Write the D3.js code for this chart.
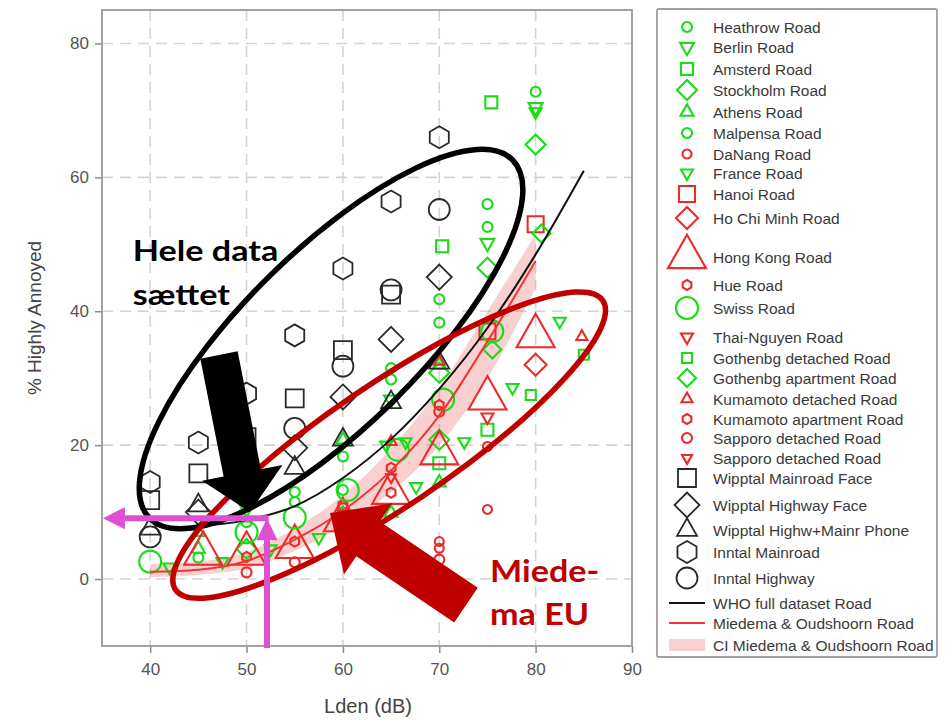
<!DOCTYPE html>
<html>
<head>
<meta charset="utf-8">
<script src="https://cdn.jsdelivr.net/npm/d3@7"></script>
<style>
  body { margin: 0; background: #fff; }
  svg { display: block; }
</style>
</head>
<body>
<svg id="chart" width="951" height="720"></svg>
<script>
// ---- Study results: [Lden (dB), % highly annoyed] ----
const heathrowRoad   = [[80, 72.8], [75, 56], [70, 41.8], [65, 31.5], [60, 18.3], [55, 13]];
const berlinRoad     = [[80, 70.5], [75, 50.2], [65, 26.8], [50, 10.5]];
const amsterdRoad    = [[75.4, 71.2], [70.3, 49.7], [75, 22.3], [70, 17.3]];
const stockholmRoad  = [[80, 64.9], [75, 46.5], [70, 30.8], [70, 20.8], [50, 4.5]];
const athensRoad     = [[70, 32], [70, 14.4], [65, 9.9], [60, 20.8], [45, 7], [45, 4.5]];
const malpensaRoad   = [[75, 52.6], [70, 38.3], [65, 29.8], [60, 13.3], [55, 11.5], [50, 8.5], [45, 3.2]];
const danangRoad     = [[75, 19.8], [75, 10.4], [70, 5.6], [70, 4.6]];
const franceRoad     = [[82.5, 38.5], [80, 69.8], [77.6, 28.6], [72.6, 20.5], [67.6, 13.8], [66.5, 20.5],
                        [64.5, 20], [57.5, 6.2], [52.5, 4.5], [47.5, 2.6], [42, 1.8]];
const hanoiRoad      = [[80, 53], [75, 37]];
const hoChiMinhRoad  = [[80, 32]];
const hongKongRoad   = [[80, 36.3], [75, 27], [70, 18.8], [65, 12.9], [60, 8.8], [55, 4.8], [50, 3.8], [45.5, 3.8]];
const hueRoad        = [[65, 16.6], [60, 11.1]];
const swissRoad      = [[40, 2.6], [50, 7], [55, 9.2], [60.5, 13.3], [65.7, 19.3], [70.4, 26.8], [75.5, 37]];
const thaiNguyenRoad = [[75, 24.2]];
const gothDetRoad    = [[85, 33.5], [79.5, 27.5]];
const gothAptRoad    = [[80.6, 51.6], [75.5, 34.3], [60, 9.5]];
const kumaDetRoad    = [[70, 32.5], [65, 20.5], [84.8, 36.2]];
const kumaAptRoad    = [[70, 26], [65, 12.9], [55, 5.6], [50, 3.3]];
const sappDetRoad    = [[70, 25], [70, 2.9], [55, 2.5], [50, 1.0], [60, 10.6]];
const sappDetRoad2   = [[65, 15.2], [60, 9.8]];
const wipptalMain    = [[40, 11.8], [45, 15.8], [50, 21.2], [55, 27], [60, 34.2], [65, 42.5]];
const wipptalHwy     = [[45, 10], [55, 19.6], [60, 27.2], [65, 35.8], [70, 45.1]];
const wipptalPhone   = [[40, 7.5], [45, 11], [55, 16.6], [60, 20.8], [65, 26.4], [70, 32.3]];
const inntalMain     = [[40, 14.5], [45, 20.4], [50, 27.7], [55, 36.4], [60, 46.4], [65, 56.4], [70, 66]];
const inntalHwy      = [[40, 6.3], [55, 22.5], [60, 31.8], [65, 43.2], [70, 55.2]];

// ---- Exposure-response curves ----
const whoLden      = [45, 50, 55, 60, 65, 70, 75, 80, 85];
const whoHA        = [7.9, 8.8, 10.9, 15.1, 20.9, 28.4, 37.5, 48.5, 61];
const miedemaLden  = [40, 45, 50, 55, 60, 65, 70, 75, 80];
const miedemaHA    = [1.1, 1.4, 2.7, 5.9, 10.2, 16.2, 24.4, 35.5, 47.5];
const ciLden       = [40, 45, 50, 55, 60, 65, 70, 75, 80];
const ciLow        = [0.3, 0.6, 1.6, 4.2, 8, 13, 20, 30, 43.5];
const ciHigh       = [2.2, 2.6, 4, 7.6, 12.5, 19.5, 28.5, 40, 51.5];

// ---- Axis ticks ----
const xTicks = [40, 50, 60, 70, 80, 90];
const yTicks = [0, 20, 40, 60, 80];

const GREEN = "#18dc18", RED = "#ec2a2a", BLACK = "#2a2a2a";

// legend order, marker look and row spacing
const seriesDefs = [
  { name: "Heathrow Road",            data: heathrowRoad,   shape: "circle",  size: 10, color: GREEN, dy: 0 },
  { name: "Berlin Road",              data: berlinRoad,     shape: "triDown", size: 14, color: GREEN, dy: 20 },
  { name: "Amsterd Road",             data: amsterdRoad,    shape: "square",  size: 12, color: GREEN, dy: 22 },
  { name: "Stockholm Road",           data: stockholmRoad,  shape: "diamond", size: 20, color: GREEN, dy: 21 },
  { name: "Athens Road",              data: athensRoad,     shape: "triUp",   size: 13, color: GREEN, dy: 22 },
  { name: "Malpensa Road",            data: malpensaRoad,   shape: "circle",  size: 10, color: GREEN, dy: 21 },
  { name: "DaNang Road",              data: danangRoad,     shape: "circle",  size: 9,  color: RED,   dy: 21 },
  { name: "France Road",              data: franceRoad,     shape: "triDown", size: 12, color: GREEN, dy: 19 },
  { name: "Hanoi Road",               data: hanoiRoad,      shape: "square",  size: 16, color: RED,   dy: 21 },
  { name: "Ho Chi Minh Road",         data: hoChiMinhRoad,  shape: "diamond", size: 22, color: RED,   dy: 24 },
  { name: "Hong Kong Road",           data: hongKongRoad,   shape: "triUp",   size: 38, color: RED,   dy: 39 },
  { name: "Hue Road",                 data: hueRoad,        shape: "hexagon", size: 10, color: RED,   dy: 28 },
  { name: "Swiss Road",               data: swissRoad,      shape: "circle",  size: 22, color: GREEN, dy: 23 },
  { name: "Thai-Nguyen Road",         data: thaiNguyenRoad, shape: "triDown", size: 12, color: RED,   dy: 29 },
  { name: "Gothenbg detached Road",   data: gothDetRoad,    shape: "square",  size: 10, color: GREEN, dy: 21 },
  { name: "Gothenbg apartment Road",  data: gothAptRoad,    shape: "diamond", size: 18, color: GREEN, dy: 20 },
  { name: "Kumamoto detached Road",   data: kumaDetRoad,    shape: "triUp",   size: 11, color: RED,   dy: 21 },
  { name: "Kumamoto apartment Road",  data: kumaAptRoad,    shape: "hexagon", size: 10, color: RED,   dy: 20 },
  { name: "Sapporo detached Road",    data: sappDetRoad,    shape: "circle",  size: 10, color: RED,   dy: 19 },
  { name: "Sapporo detached Road",    data: sappDetRoad2,   shape: "triDown", size: 10, color: RED,   dy: 20 },
  { name: "Wipptal Mainroad Face",    data: wipptalMain,    shape: "square",  size: 18, color: BLACK, dy: 20 },
  { name: "Wipptal Highway Face",     data: wipptalHwy,     shape: "diamond", size: 25, color: BLACK, dy: 27 },
  { name: "Wipptal Highw+Mainr Phone",data: wipptalPhone,   shape: "triUp",   size: 20, color: BLACK, dy: 25 },
  { name: "Inntal Mainroad",          data: inntalMain,     shape: "hexagon", size: 22, color: BLACK, dy: 22 },
  { name: "Inntal Highway",           data: inntalHwy,      shape: "circle",  size: 21, color: BLACK, dy: 26 }
];
const lineDefs = [
  { name: "WHO full dataset Road",        kind: "line", color: "#111",   dy: 25 },
  { name: "Miedema & Oudshoorn Road",     kind: "line", color: "#ee3535", dy: 20 },
  { name: "CI Miedema & Oudshoorn Road",  kind: "band", color: "rgba(238,120,120,0.35)", dy: 22 }
];

// ---- Layout ----
const svg = d3.select("#chart");
const plot = { left: 102, right: 632, top: 10, bottom: 646 };
const x = d3.scaleLinear().domain([35, 90]).range([plot.left, plot.right]);
const y = d3.scaleLinear().domain([-10, 85]).range([plot.bottom, plot.top]);

// marker outlines, s = full width in px
function shapePath(shape, s) {
  const p = d3.path(), h = s / 2;
  if (shape === "circle") { p.moveTo(h, 0); p.arc(0, 0, h, 0, 2 * Math.PI); }
  else if (shape === "square") { p.rect(-h, -h, s, s); }
  else if (shape === "diamond") { p.moveTo(0, -h); p.lineTo(h, 0); p.lineTo(0, h); p.lineTo(-h, 0); p.closePath(); }
  else if (shape === "triUp" || shape === "triDown") {
    const th = s * 0.88, sg = shape === "triUp" ? 1 : -1;
    p.moveTo(0, -sg * th * 2 / 3); p.lineTo(h, sg * th / 3); p.lineTo(-h, sg * th / 3); p.closePath();
  } else if (shape === "hexagon") {
    for (let k = 0; k < 6; k++) {
      const a = (-90 + 60 * k) * Math.PI / 180;
      const px = h * Math.cos(a), py = h * Math.sin(a);
      k ? p.lineTo(px, py) : p.moveTo(px, py);
    }
    p.closePath();
  }
  return p.toString();
}

// ---- Grid ----
const grid = svg.append("g").attr("stroke", "#d4d4d4").attr("stroke-width", 1.6)
  .attr("stroke-dasharray", "11,7").attr("fill", "none");
grid.selectAll("line.h").data(yTicks).join("line").attr("class", "h")
  .attr("x1", plot.left).attr("x2", plot.right).attr("y1", d => y(d)).attr("y2", d => y(d));
grid.selectAll("line.v").data(xTicks.filter(d => d < 90)).join("line").attr("class", "v")
  .attr("y1", plot.top).attr("y2", plot.bottom).attr("x1", d => x(d)).attr("x2", d => x(d));

// ---- Axes ----
const axisFont = "'Liberation Sans', Arial, sans-serif";
const yAxis = svg.append("g").attr("transform", `translate(${plot.left},0)`)
  .call(d3.axisLeft(y).tickValues(yTicks).tickSize(7).tickPadding(6));
const xAxis = svg.append("g").attr("transform", `translate(0,${plot.bottom})`)
  .call(d3.axisBottom(x).tickValues(xTicks).tickSize(7).tickPadding(10));
[xAxis, yAxis].forEach(g => {
  g.select(".domain").remove();
  g.selectAll(".tick line").attr("stroke", "#8a8a8a").attr("stroke-width", 1.5);
  g.selectAll(".tick text").attr("fill", "#555").attr("font-size", 17).attr("font-family", axisFont);
});

svg.append("rect").attr("x", plot.left).attr("y", plot.top)
  .attr("width", plot.right - plot.left).attr("height", plot.bottom - plot.top)
  .attr("fill", "none").attr("stroke", "#9a9a9a").attr("stroke-width", 1.8);

svg.append("text").attr("transform", `translate(41,318) rotate(-90)`)
  .attr("text-anchor", "middle").attr("font-family", axisFont).attr("font-size", 19)
  .attr("fill", "#444").text("% Highly Annoyed");
svg.append("text").attr("x", (plot.left + plot.right) / 2 + 1).attr("y", 713)
  .attr("text-anchor", "middle").attr("font-family", axisFont).attr("font-size", 20)
  .attr("fill", "#444").text("Lden (dB)");

// ---- Confidence band and curves ----
const band = ciLden.map((v, i) => ({ x: v, lo: ciLow[i], hi: ciHigh[i] }));
svg.append("path").datum(band)
  .attr("fill", lineDefs[2].color)
  .attr("d", d3.area().x(d => x(d.x)).y0(d => y(d.lo)).y1(d => y(d.hi)).curve(d3.curveMonotoneX));

// ---- Study markers ----
const marks = svg.append("g").attr("fill", "none");
seriesDefs.forEach(s => {
  marks.append("g").selectAll("path").data(s.data).join("path")
    .attr("transform", d => `translate(${x(d[0])},${y(d[1])})`)
    .attr("d", shapePath(s.shape, s.size))
    .attr("stroke", s.color).attr("stroke-width", s.color === BLACK ? 1.8 : 2.1);
});

const line = d3.line().x(d => x(d[0])).y(d => y(d[1])).curve(d3.curveMonotoneX);
svg.append("path").datum(whoLden.map((v, i) => [v, whoHA[i]]))
  .attr("fill", "none").attr("stroke", lineDefs[0].color).attr("stroke-width", 2).attr("d", line);
svg.append("path").datum(miedemaLden.map((v, i) => [v, miedemaHA[i]]))
  .attr("fill", "none").attr("stroke", lineDefs[1].color).attr("stroke-width", 2).attr("d", line);

// ---- Legend ----
const legend = svg.append("g");
legend.append("rect").attr("x", 657).attr("y", 9).attr("width", 280).attr("height", 648).attr("rx", 2)
  .attr("fill", "#fff").attr("stroke", "#a0a0a0").attr("stroke-width", 1.8);
let ly = 27;
const legendFont = "'Liberation Sans', Arial, sans-serif";
[...seriesDefs, ...lineDefs].forEach(d => {
  ly += d.dy;
  const row = legend.append("g").attr("transform", `translate(0,${ly})`);
  if (d.kind === "line") {
    row.append("line").attr("x1", 669).attr("x2", 705).attr("stroke", d.color).attr("stroke-width", 2.2);
  } else if (d.kind === "band") {
    row.append("rect").attr("x", 669).attr("y", -6).attr("width", 36).attr("height", 12).attr("fill", d.color);
  } else {
    row.append("path").attr("transform", "translate(687,0)").attr("d", shapePath(d.shape, d.size))
      .attr("fill", "none").attr("stroke", d.color).attr("stroke-width", d.color === BLACK ? 1.8 : 2.1);
  }
  row.append("text").attr("x", 713).attr("y", 5.5).attr("font-family", legendFont)
    .attr("font-size", 15.5).attr("fill", "#3a3a3a").text(d.name);
});

// ---- Annotations ----
const ann = svg.append("g");
function ellipse(c, rx, ry, angle, color, width) {
  ann.append("ellipse").attr("cx", 0).attr("cy", 0).attr("rx", rx).attr("ry", ry)
    .attr("transform", `translate(${x(c[0])},${y(c[1])}) rotate(${angle})`)
    .attr("fill", "none").attr("stroke", color).attr("stroke-width", width);
}
// block arrow from tail to tip (data units), widths in px
function blockArrow(tail, tip, shaftHalf, headHalf, headLen, color) {
  const x0 = x(tail[0]), y0 = y(tail[1]), x1 = x(tip[0]), y1 = y(tip[1]);
  const len = Math.hypot(x1 - x0, y1 - y0), ux = (x1 - x0) / len, uy = (y1 - y0) / len;
  const nx = -uy, ny = ux;
  const bx = x1 - ux * headLen, by = y1 - uy * headLen;
  const pts = [
    [x0 + nx * shaftHalf, y0 + ny * shaftHalf], [bx + nx * shaftHalf, by + ny * shaftHalf],
    [bx + nx * headHalf, by + ny * headHalf], [x1, y1],
    [bx - nx * headHalf, by - ny * headHalf], [bx - nx * shaftHalf, by - ny * shaftHalf],
    [x0 - nx * shaftHalf, y0 - ny * shaftHalf]
  ];
  ann.append("path").attr("d", "M" + pts.map(p => p.join(",")).join("L") + "Z").attr("fill", color);
}
function thinArrow(from, to, width, headHalf, headLen, color) {
  const x0 = x(from[0]), y0 = y(from[1]), x1 = x(to[0]), y1 = y(to[1]);
  const len = Math.hypot(x1 - x0, y1 - y0), ux = (x1 - x0) / len, uy = (y1 - y0) / len;
  const bx = x1 - ux * headLen, by = y1 - uy * headLen;
  ann.append("line").attr("x1", x0).attr("y1", y0).attr("x2", bx).attr("y2", by)
    .attr("stroke", color).attr("stroke-width", width);
  ann.append("path").attr("fill", color)
    .attr("d", `M${x1},${y1}L${bx - uy * headHalf},${by + ux * headHalf}L${bx + uy * headHalf},${by - ux * headHalf}Z`);
}

ellipse([58.77, 35.85], 255, 88, -44.6, "#000", 5.5);
ellipse([64.8, 20.0], 258, 61, -34.1, "#c00000", 5.5);

const MAGENTA = "#df4fd4";
thinArrow([52.12, -10.3], [52.12, 9.1], 6, 10.5, 22, MAGENTA);
thinArrow([52.3, 9.1], [35.1, 9.1], 6, 11, 22, MAGENTA);

blockArrow([47.14, 33.47], [50.36, 10.0], 19, 41, 40, "#000");
blockArrow([72.77, -3.89], [58.66, 9.86], 21, 43, 46, "#c00000");

// callout text, widened horizontally like the slide lettering
const noteFont = "Lato, 'Open Sans', sans-serif";
function note(lines, x0, size, stretch, color) {
  const px = x(x0);
  const t = ann.append("text").attr("font-family", noteFont).attr("font-weight", 700)
    .attr("font-size", size).attr("fill", color)
    .attr("transform", `translate(${px},0) scale(${stretch},1) translate(${-px},0)`);
  lines.forEach(l => t.append("tspan").attr("x", px).attr("y", y(l.at)).text(l.text));
}
note([{ text: "Hele data", at: 47.5 }, { text: "sættet", at: 40.9 }], 38.2, 28, 1.22, "#000");
note([{ text: "Miede-", at: -0.45 }, { text: "ma EU", at: -6.9 }], 75.27, 31, 1.1, "#c00000");
</script>
</body>
</html>
